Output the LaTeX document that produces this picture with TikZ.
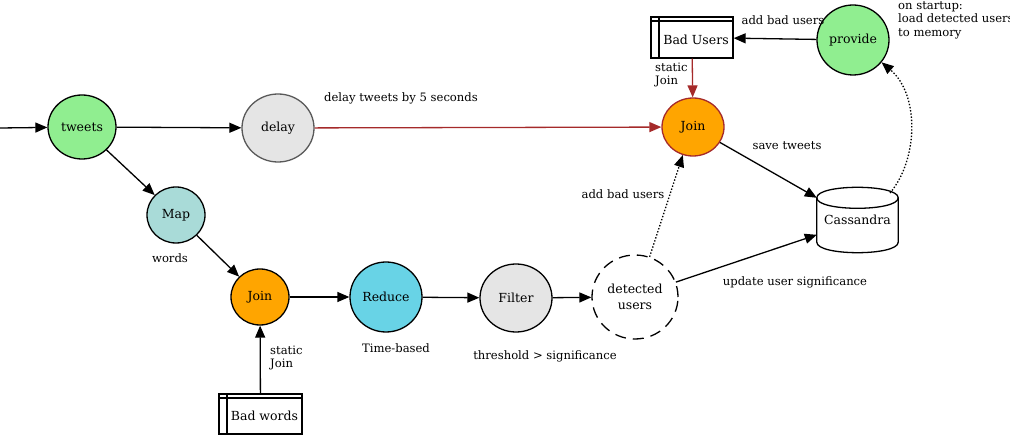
\documentclass[tikz,border=0pt]{standalone}
\usepackage{fontspec}
\setmainfont{DejaVu Serif}
\usetikzlibrary{arrows.meta,shapes.geometric}

\definecolor{srcgreen}{HTML}{90EE90}
\definecolor{joinorange}{HTML}{FFA500}
\definecolor{opgray}{HTML}{E5E5E5}
\definecolor{mapteal}{HTML}{A9DBD8}
\definecolor{reduceblue}{HTML}{68D3E6}
\definecolor{staticbrown}{HTML}{A52A2A}

\tikzset{
  op/.style={ellipse, draw, line width=1.3pt, inner sep=0pt,
    font=\fontsize{12.5}{16}\selectfont, align=center},
  flow/.style={-{Triangle[length=12pt,width=10pt]}, line width=1.3pt},
  dots/.style={dash pattern=on 1.4pt off 1.8pt},
  lbl/.style={font=\fontsize{11.6}{13.5}\selectfont, align=left, inner sep=0pt},
  store/.style={draw, line width=1.3pt, inner sep=0pt,
    minimum width=82pt, minimum height=41pt,
    path picture={
      \draw[line width=2.2pt]
        ([xshift=8pt]path picture bounding box.north west) -- ([xshift=8pt]path picture bounding box.south west)
        ([yshift=-4pt]path picture bounding box.north west) -- ([yshift=-4pt]path picture bounding box.north east);
    }},
}

\begin{document}
\begin{tikzpicture}[x=1pt,y=-1pt]
  \useasboundingbox (0,0) rectangle (1010,435);

  % nodes
  \coordinate (src) at (0,128);
  \node[op, fill=srcgreen, minimum width=68pt, minimum height=64pt] (tweets) at (82,127) {tweets};
  \node[op, fill=opgray, draw=black!65, minimum width=72pt, minimum height=68pt] (delay) at (278,128) {delay};
  \node[op, fill=mapteal, minimum width=58pt, minimum height=56pt] (map) at (176,215) {Map};
  \node[op, fill=joinorange, minimum width=58pt, minimum height=56pt] (joinA) at (260,297) {Join};
  \node[op, fill=reduceblue, minimum width=72pt, minimum height=70pt] (reduce) at (386,297) {Reduce};
  \node[op, fill=opgray, minimum width=72pt, minimum height=68pt] (filter) at (516,298) {Filter};
  \node[op, dash pattern=on 11pt off 7pt, minimum width=86pt, minimum height=84pt] (detected) at (635,297) {detected\\users};
  \node[op, fill=joinorange, draw=staticbrown, minimum width=62pt, minimum height=58pt] (joinB) at (693,127) {Join};
  \node[op, fill=srcgreen, minimum width=72pt, minimum height=70pt] (provide) at (853,40) {provide};
  \node[store, label={[xshift=4pt, yshift=-2pt, font=\fontsize{12.5}{16}\selectfont]center:Bad Users}] (badusers) at (692,37.5) {};
  \node[store, minimum width=83pt, minimum height=40pt, label={[xshift=4pt, yshift=-2pt, font=\fontsize{12.5}{16}\selectfont]center:Bad words}] (badwords) at (260.5,414) {};
  \node[minimum width=81pt, minimum height=44pt, inner sep=0pt, font=\fontsize{12.5}{16}\selectfont] (cass) at (857.5,220) {Cassandra};
  \draw[line width=1.3pt] (cass.north west) .. controls +(0,-14) and +(0,-14) .. (cass.north east)
    -- (cass.south east) .. controls +(0,14) and +(0,14) .. (cass.south west) -- cycle;
  \draw[line width=1.3pt] (cass.north west) .. controls +(0,14) and +(0,14) .. (cass.north east);
  \coordinate (casstop) at (890,193);

  % connectors
  \draw[flow] (src) -- (tweets);
  \draw[flow] (tweets) -- (delay);
  \draw[flow] (tweets) -- (map);
  \draw[flow] (map) -- (joinA);
  \draw[flow] (badwords) -- (joinA);
  \draw[flow] (joinA) -- (reduce);
  \draw[flow] (reduce) -- (filter);
  \draw[flow] (filter) -- (detected);
  \draw[flow, dots] (detected.70) -- (joinB.250);
  \draw[flow] (detected.20) -- (cass.200);
  \draw[flow] (joinB) -- (cass.north west);
  \draw[flow, staticbrown] (delay) -- (joinB);
  \draw[flow, staticbrown] (badusers) -- (joinB);
  \draw[flow] (provide) -- (badusers);
  \draw[flow, dots] (casstop) .. controls (918,160) and (920,95) .. (provide.-38);

  % labels
  \node[lbl] (lbldelay) at (401,98) {delay tweets by 5 seconds};
  \node[lbl, anchor=west] (lblstaticB) at (655,75) {static\\Join};
  \node[lbl] (lbladdA) at (783,20) {add bad users};
  \node[lbl, anchor=west] (lblstartup) at (898,20) {on startup:\\load detected users\\to memory};
  \node[lbl] (lblsave) at (787,146) {save tweets};
  \node[lbl] (lbladdB) at (623,194) {add bad users};
  \node[lbl] (lblupdate) at (795,282) {update user significance};
  \node[lbl] (lblwords) at (170,258) {words};
  \node[lbl, anchor=west] (lblstaticA) at (270,358) {static\\Join};
  \node[lbl] (lbltime) at (396,348) {Time-based};
  \node[lbl] (lblthresh) at (545,356) {threshold > significance};
\end{tikzpicture}
\end{document}
